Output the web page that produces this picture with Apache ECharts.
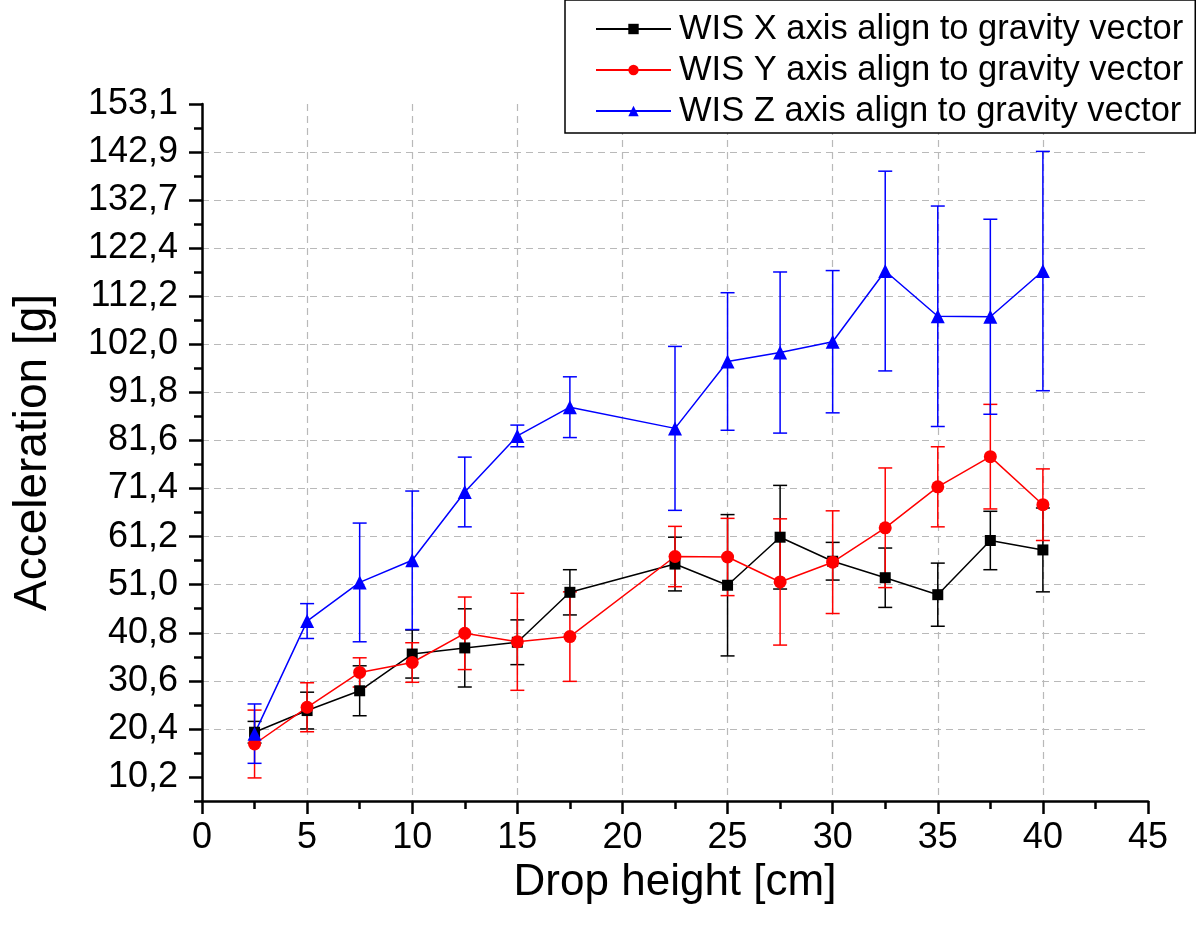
<!DOCTYPE html>
<html>
<head>
<meta charset="utf-8">
<script src="https://cdn.jsdelivr.net/npm/echarts@6/dist/echarts.min.js"></script>
<style>
html,body{margin:0;padding:0;background:#fff;}
#chart{width:1200px;height:925px;}
</style>
</head>
<body>
<div id="chart"></div>
<script>
// ---------- data ----------
const dropHeight = [2.5, 5, 7.5, 10, 12.5, 15, 17.5, 22.5, 25, 27.5, 30, 32.5, 35, 37.5, 40];

const wisX     = [19.7, 24.3, 28.5, 36.3, 37.6, 38.8, 49.4, 55.4, 50.9, 61.1, 56.0, 52.5, 48.9, 60.4, 58.4];
const wisXErr  = [2.3, 3.9, 5.3, 5.1, 8.3, 4.75, 4.8, 5.7, 15.0, 11.0, 4.0, 6.3, 6.7, 6.2, 8.9];

const wisY     = [17.2, 25.0, 32.4, 34.5, 40.7, 38.9, 40.0, 57.0, 56.9, 51.6, 55.8, 63.1, 71.8, 78.2, 68.0];
const wisYErr  = [7.2, 5.2, 3.1, 4.2, 7.7, 10.3, 9.5, 6.4, 8.2, 13.4, 10.9, 12.7, 8.5, 11.1, 7.6];

const wisZ     = [19.4, 43.3, 51.5, 56.2, 70.7, 82.6, 88.7, 84.2, 98.4, 100.3, 102.6, 117.6, 108.0, 107.9, 117.6];
const wisZErr  = [6.3, 3.7, 12.6, 14.7, 7.4, 2.3, 6.45, 17.4, 14.6, 17.1, 15.1, 21.2, 23.4, 20.7, 25.4];

const seriesNames = [
  'WIS X axis align to gravity vector',
  'WIS Y axis align to gravity vector',
  'WIS Z axis align to gravity vector'
];

const yTickValues = [10.204, 20.408, 30.612, 40.816, 51.020, 61.224, 71.429, 81.633,
                     91.837, 102.041, 112.245, 122.449, 132.653, 142.857, 153.061];
const yTickLabels = ['10,2', '20,4', '30,6', '40,8', '51,0', '61,2', '71,4', '81,6',
                     '91,8', '102,0', '112,2', '122,4', '132,7', '142,9', '153,1'];
const yMin = 5.10204;
const yMax = 153.061;
const yMinorStep = 5.10204;

const xTickLabels = ['0', '5', '10', '15', '20', '25', '30', '35', '40', '45'];

// ---------- chart ----------
const FONT = "'Liberation Sans', Arial, sans-serif";
const chart = echarts.init(document.getElementById('chart'), null, {renderer: 'canvas'});

function yLabel(v) {
  let best = 0, bd = Infinity;
  yTickValues.forEach((t, i) => { const d = Math.abs(t - v); if (d < bd) { bd = d; best = i; } });
  return bd < 0.5 ? yTickLabels[best] : '';
}

function errorSeries(id, color, means, errs) {
  return {
    type: 'custom',
    name: id,
    silent: true,
    z: 3,
    data: dropHeight.map((x, i) => [x, means[i] - errs[i], means[i] + errs[i]]),
    encode: {x: 0, y: [1, 2]},
    renderItem: function (params, api) {
      const x = api.value(0);
      const lo = api.coord([x, api.value(1)]);
      const hi = api.coord([x, api.value(2)]);
      const w = 7;
      const st = {stroke: color, lineWidth: 1.5};
      return {
        type: 'group',
        children: [
          {type: 'line', shape: {x1: lo[0], y1: lo[1], x2: hi[0], y2: hi[1]}, style: st},
          {type: 'line', shape: {x1: lo[0] - w, y1: lo[1], x2: lo[0] + w, y2: lo[1]}, style: st},
          {type: 'line', shape: {x1: hi[0] - w, y1: hi[1], x2: hi[0] + w, y2: hi[1]}, style: st}
        ]
      };
    }
  };
}

function lineSeries(name, color, symbol, size, values) {
  return {
    type: 'line',
    name: name,
    data: dropHeight.map((x, i) => [x, values[i]]),
    symbol: symbol,
    symbolSize: size,
    showAllSymbol: true,
    z: 4,
    lineStyle: {color: color, width: 1.5},
    itemStyle: {color: color},
    emphasis: {disabled: true},
    animation: false
  };
}

const gridLine = {color: '#b9b9b9', width: 1.2, type: [7, 5]};

const option = {
  backgroundColor: '#ffffff',
  animation: false,
  textStyle: {fontFamily: FONT},
  grid: {left: 202, right: 52, top: 104, bottom: 124, containLabel: false},
  legend: {
    orient: 'vertical',
    left: 565,
    top: 0,
    data: seriesNames,
    backgroundColor: '#ffffff',
    borderColor: '#000000',
    borderWidth: 1.5,
    borderRadius: 0,
    padding: [10, 12, 3, 30],
    itemWidth: 75,
    itemHeight: 13,
    itemGap: 3,
    selectedMode: false,
    z: 10,
    textStyle: {fontSize: 34.5, fontFamily: FONT, color: '#000', lineHeight: 38, padding: [0, 0, 0, 3]}
  },
  xAxis: {
    type: 'value',
    min: 0,
    max: 45,
    interval: 5,
    name: 'Drop height [cm]',
    nameLocation: 'middle',
    nameGap: 56,
    nameTextStyle: {fontSize: 44, fontFamily: FONT, color: '#000'},
    axisLine: {show: true, onZero: false, lineStyle: {color: '#000', width: 2.5}},
    axisTick: {show: true, inside: false, length: 13, lineStyle: {color: '#000', width: 2.5}},
    minorTick: {show: true, splitNumber: 2, length: 8, lineStyle: {color: '#000', width: 2.5}},
    axisLabel: {fontSize: 36, fontFamily: FONT, color: '#000', margin: 19,
      formatter: function (v) { const i = Math.round(v / 5); return xTickLabels[i] !== undefined ? xTickLabels[i] : ''; }},
    splitLine: {show: true, showMinLine: false, showMaxLine: false, lineStyle: gridLine}
  },
  yAxis: [
    {
      type: 'value',
      min: yMin,
      max: yMax,
      interval: yMinorStep,
      position: 'left',
      name: 'Acceleration [g]',
      nameLocation: 'middle',
      nameGap: 146,
      nameTextStyle: {fontSize: 46, fontFamily: FONT, color: '#000'},
      axisLine: {show: true, onZero: false, lineStyle: {color: '#000', width: 2.5}},
      axisTick: {show: true, inside: false, length: 13, customValues: yTickValues, lineStyle: {color: '#000', width: 2.5}},
      axisLabel: {fontSize: 36, fontFamily: FONT, color: '#000', margin: 24, customValues: yTickValues, formatter: yLabel},
      splitLine: {show: true, showMinLine: false, showMaxLine: false, lineStyle: gridLine}
    },
    {
      type: 'value',
      min: yMin,
      max: yMax,
      interval: yMinorStep,
      position: 'left',
      offset: 0,
      axisLine: {show: false},
      axisTick: {show: true, inside: false, length: 8, lineStyle: {color: '#000', width: 2.5}},
      axisLabel: {show: false},
      splitLine: {show: false}
    }
  ],
  series: [
    errorSeries('errX', '#000000', wisX, wisXErr),
    lineSeries(seriesNames[0], '#000000', 'rect', 11, wisX),
    errorSeries('errY', '#ff0000', wisY, wisYErr),
    lineSeries(seriesNames[1], '#ff0000', 'circle', 13, wisY),
    errorSeries('errZ', '#0000ff', wisZ, wisZErr),
    lineSeries(seriesNames[2], '#0000ff', 'triangle', 14, wisZ)
  ]
};

chart.setOption(option);
</script>
</body>
</html>
